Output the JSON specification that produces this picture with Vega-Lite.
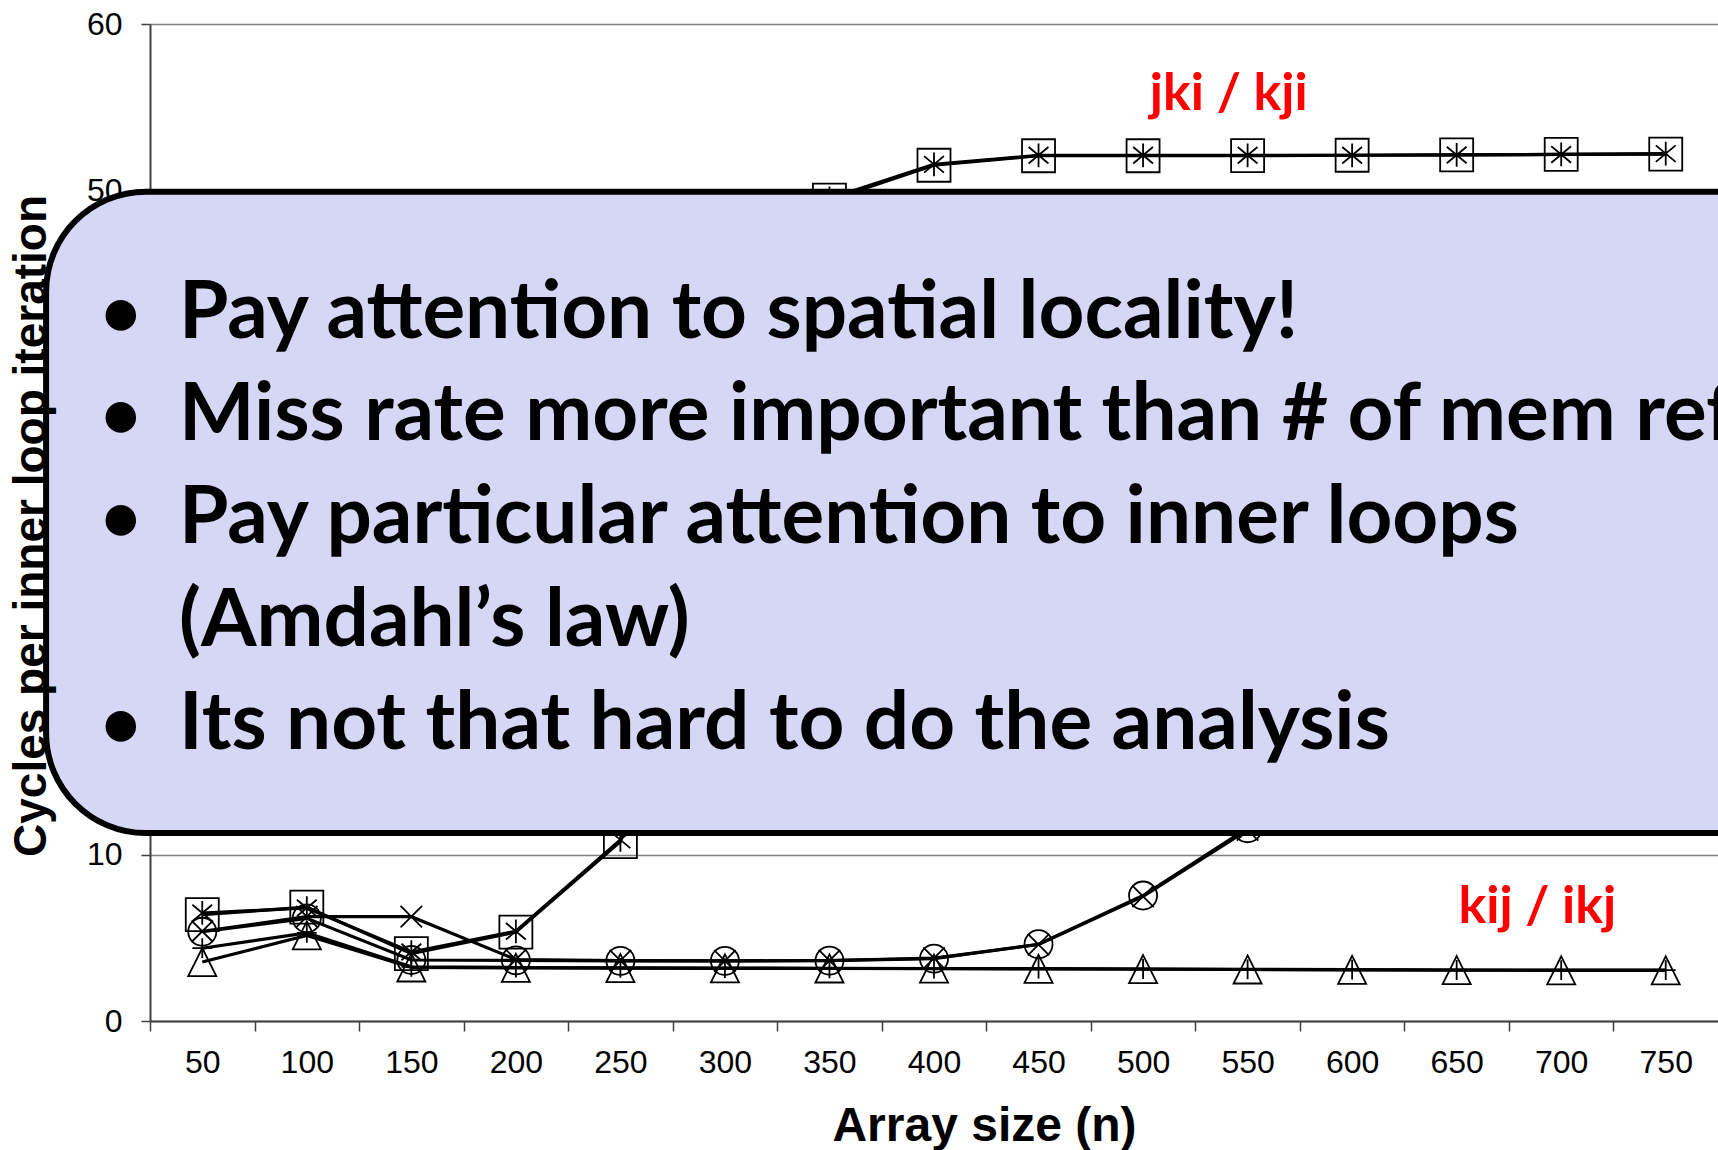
{
  "$schema": "https://vega.github.io/schema/vega-lite/v6.json",
  "width": 1568,
  "height": 997,
  "autosize": {"type": "none"},
  "padding": {"left": 150, "top": 24, "right": 0, "bottom": 129},
  "background": "white",
  "config": {"view": {"stroke": null}, "font": "Liberation Sans"},
  "datasets": {
    "perf": [
      {"order": "jki", "n": 50, "cycles": 6.4}, {"order": "jki", "n": 100, "cycles": 6.85}, {"order": "jki", "n": 150, "cycles": 4.05}, {"order": "jki", "n": 200, "cycles": 5.35}, {"order": "jki", "n": 250, "cycles": 10.8}, {"order": "jki", "n": 300, "cycles": 30.0}, {"order": "jki", "n": 350, "cycles": 49.4}, {"order": "jki", "n": 400, "cycles": 51.5}, {"order": "jki", "n": 450, "cycles": 52.07}, {"order": "jki", "n": 500, "cycles": 52.07}, {"order": "jki", "n": 550, "cycles": 52.08}, {"order": "jki", "n": 600, "cycles": 52.1}, {"order": "jki", "n": 650, "cycles": 52.12}, {"order": "jki", "n": 700, "cycles": 52.15}, {"order": "jki", "n": 750, "cycles": 52.17},
      {"order": "kji", "n": 50, "cycles": 6.5}, {"order": "kji", "n": 100, "cycles": 6.8}, {"order": "kji", "n": 150, "cycles": 4.15}, {"order": "kji", "n": 200, "cycles": 5.4}, {"order": "kji", "n": 250, "cycles": 10.9}, {"order": "kji", "n": 300, "cycles": 30.5}, {"order": "kji", "n": 350, "cycles": 49.5}, {"order": "kji", "n": 400, "cycles": 51.55}, {"order": "kji", "n": 450, "cycles": 52.1}, {"order": "kji", "n": 500, "cycles": 52.1}, {"order": "kji", "n": 550, "cycles": 52.1}, {"order": "kji", "n": 600, "cycles": 52.1}, {"order": "kji", "n": 650, "cycles": 52.12}, {"order": "kji", "n": 700, "cycles": 52.15}, {"order": "kji", "n": 750, "cycles": 52.2},
      {"order": "ijk", "n": 50, "cycles": 5.37}, {"order": "ijk", "n": 100, "cycles": 6.18}, {"order": "ijk", "n": 150, "cycles": 3.67}, {"order": "ijk", "n": 200, "cycles": 3.65}, {"order": "ijk", "n": 250, "cycles": 3.62}, {"order": "ijk", "n": 300, "cycles": 3.62}, {"order": "ijk", "n": 350, "cycles": 3.63}, {"order": "ijk", "n": 400, "cycles": 3.75}, {"order": "ijk", "n": 450, "cycles": 4.62}, {"order": "ijk", "n": 500, "cycles": 7.55}, {"order": "ijk", "n": 550, "cycles": 11.6}, {"order": "ijk", "n": 600, "cycles": 14.8}, {"order": "ijk", "n": 650, "cycles": 17.5}, {"order": "ijk", "n": 700, "cycles": 19.5}, {"order": "ijk", "n": 750, "cycles": 21.0},
      {"order": "jik", "n": 50, "cycles": 5.4}, {"order": "jik", "n": 100, "cycles": 6.28}, {"order": "jik", "n": 150, "cycles": 6.28}, {"order": "jik", "n": 200, "cycles": 3.7}, {"order": "jik", "n": 250, "cycles": 3.63}, {"order": "jik", "n": 300, "cycles": 3.62}, {"order": "jik", "n": 350, "cycles": 3.64}, {"order": "jik", "n": 400, "cycles": 3.78}, {"order": "jik", "n": 450, "cycles": 4.6}, {"order": "jik", "n": 500, "cycles": 7.5}, {"order": "jik", "n": 550, "cycles": 11.5}, {"order": "jik", "n": 600, "cycles": 14.6}, {"order": "jik", "n": 650, "cycles": 17.2}, {"order": "jik", "n": 700, "cycles": 19.3}, {"order": "jik", "n": 750, "cycles": 20.8},
      {"order": "kij", "n": 50, "cycles": 3.55}, {"order": "kij", "n": 100, "cycles": 5.15}, {"order": "kij", "n": 150, "cycles": 3.22}, {"order": "kij", "n": 200, "cycles": 3.2}, {"order": "kij", "n": 250, "cycles": 3.18}, {"order": "kij", "n": 300, "cycles": 3.17}, {"order": "kij", "n": 350, "cycles": 3.16}, {"order": "kij", "n": 400, "cycles": 3.15}, {"order": "kij", "n": 450, "cycles": 3.14}, {"order": "kij", "n": 500, "cycles": 3.12}, {"order": "kij", "n": 550, "cycles": 3.1}, {"order": "kij", "n": 600, "cycles": 3.08}, {"order": "kij", "n": 650, "cycles": 3.06}, {"order": "kij", "n": 700, "cycles": 3.05}, {"order": "kij", "n": 750, "cycles": 3.05},
      {"order": "ikj", "n": 50, "cycles": 4.38}, {"order": "ikj", "n": 100, "cycles": 5.3}, {"order": "ikj", "n": 150, "cycles": 3.26}, {"order": "ikj", "n": 200, "cycles": 3.22}, {"order": "ikj", "n": 250, "cycles": 3.2}, {"order": "ikj", "n": 300, "cycles": 3.18}, {"order": "ikj", "n": 350, "cycles": 3.17}, {"order": "ikj", "n": 400, "cycles": 3.16}, {"order": "ikj", "n": 450, "cycles": 3.15}, {"order": "ikj", "n": 500, "cycles": 3.13}, {"order": "ikj", "n": 550, "cycles": 3.11}, {"order": "ikj", "n": 600, "cycles": 3.09}, {"order": "ikj", "n": 650, "cycles": 3.07}, {"order": "ikj", "n": 700, "cycles": 3.06}, {"order": "ikj", "n": 750, "cycles": 3.06}
    ],
    "box": [
      {"n_left": -24.7, "n_right": 830, "c_bottom": 11.31, "c_top": 49.91}
    ],
    "notes": [
      {"line": "Pay attention to spatial locality!", "n": 38.9, "cycles": 41.13},
      {"line": "Miss rate more important than # of mem refs", "n": 38.9, "cycles": 34.94},
      {"line": "Pay particular attention to inner loops", "n": 38.9, "cycles": 28.74},
      {"line": "(Amdahl’s law)", "n": 38.9, "cycles": 22.54},
      {"line": "Its not that hard to do the analysis", "n": 38.9, "cycles": 16.34}
    ],
    "bullets": [
      {"mark": "•", "n": 11.0, "cycles": 41.25},
      {"mark": "•", "n": 11.0, "cycles": 35.06},
      {"mark": "•", "n": 11.0, "cycles": 28.86},
      {"mark": "•", "n": 11.0, "cycles": 16.46}
    ],
    "tags": [
      {"tag": "jki / kji", "n": 541, "cycles": 54.82},
      {"tag": "kij / ikj", "n": 688.6, "cycles": 5.88}
    ],
    "ytitle": [
      {"label": "Cycles per inner loop iteration", "n": -24.7, "cycles": 29.79}
    ]
  },
  "layer": [
    {
      "data": {"name": "perf"},
      "mark": {"type": "line", "color": "black", "strokeWidth": 3.2},
      "encoding": {
        "x": {
          "field": "n", "type": "quantitative",
          "scale": {"domain": [25, 775], "nice": false, "zero": false},
          "axis": {
            "values": [50, 100, 150, 200, 250, 300, 350, 400, 450, 500, 550, 600, 650, 700, 750],
            "tickOffset": -52.27, "labelOffset": 52.27, "format": "d",
            "title": "Array size (n)", "titleFontSize": 48, "titleFontWeight": "bold", "titleColor": "black",
            "titleX": 834, "titleY": 119, "titleAlign": "center", "titleBaseline": "alphabetic",
            "labelFontSize": 32, "labelColor": "black", "labelPadding": 16, "labelFlush": false, "labelOverlap": false,
            "tickSize": 10, "tickColor": "#404040", "tickWidth": 1.5,
            "domainColor": "#404040", "domainWidth": 2, "grid": false
          }
        },
        "y": {
          "field": "cycles", "type": "quantitative",
          "scale": {"domain": [0, 60], "nice": false, "zero": false},
          "axis": {
            "orient": "left", "values": [0, 10, 20, 30, 40, 50, 60], "title": null,
            "grid": true, "gridColor": "#808080", "gridWidth": 1.5,
            "labelFontSize": 32, "labelColor": "black", "labelPadding": 19,
            "tickSize": 9, "tickColor": "#404040", "tickWidth": 1.5,
            "domainColor": "#404040", "domainWidth": 2
          }
        },
        "detail": {"field": "order"}
      }
    },
    {
      "data": {"name": "perf"},
      "mark": {"type": "point", "filled": false, "color": "black", "strokeWidth": 1.8, "size": 1089, "opacity": 1},
      "encoding": {
        "x": {"field": "n", "type": "quantitative"},
        "y": {"field": "cycles", "type": "quantitative"},
        "shape": {
          "field": "order", "type": "nominal", "legend": null,
          "scale": {
            "domain": ["jki", "kji", "ijk", "jik", "kij", "ikj"],
            "range": [
              "M-1,-1H1V1H-1Z",
              "M0,-0.72V0.72M-0.6,-0.5L0.6,0.5M-0.6,0.5L0.6,-0.5",
              "M-0.85,0A0.85,0.85 0 1,0 0.85,0A0.85,0.85 0 1,0 -0.85,0Z",
              "M-0.65,-0.65L0.65,0.65M-0.65,0.65L0.65,-0.65",
              "M0,-0.85L0.85,0.85L-0.85,0.85Z",
              "M0,-0.6V0.6M-0.6,0H0.6"
            ]
          }
        }
      }
    },
    {
      "data": {"name": "box"},
      "mark": {"type": "rect", "fill": "#d6d6f5", "stroke": "black", "strokeWidth": 6, "cornerRadius": 100},
      "encoding": {
        "x": {"field": "n_left", "type": "quantitative"},
        "x2": {"field": "n_right"},
        "y": {"field": "c_bottom", "type": "quantitative"},
        "y2": {"field": "c_top"}
      }
    },
    {
      "data": {"name": "bullets"},
      "mark": {"type": "text", "font": "Lato", "fontWeight": "bold", "fontSize": 70, "align": "center", "baseline": "alphabetic", "color": "black"},
      "encoding": {
        "x": {"field": "n", "type": "quantitative"},
        "y": {"field": "cycles", "type": "quantitative"},
        "text": {"field": "mark"}
      }
    },
    {
      "data": {"name": "notes"},
      "mark": {"type": "text", "font": "Lato", "fontWeight": "bold", "fontSize": 80, "align": "left", "baseline": "alphabetic", "color": "black"},
      "encoding": {
        "x": {"field": "n", "type": "quantitative"},
        "y": {"field": "cycles", "type": "quantitative"},
        "text": {"field": "line"}
      }
    },
    {
      "data": {"name": "tags"},
      "mark": {"type": "text", "font": "Lato", "fontWeight": "bold", "fontSize": 52, "align": "center", "baseline": "alphabetic", "color": "#ff0000"},
      "encoding": {
        "x": {"field": "n", "type": "quantitative"},
        "y": {"field": "cycles", "type": "quantitative"},
        "text": {"field": "tag"}
      }
    },
    {
      "data": {"name": "ytitle"},
      "mark": {"type": "text", "font": "Liberation Sans", "fontWeight": "bold", "fontSize": 46, "angle": 270, "align": "center", "baseline": "alphabetic", "color": "black"},
      "encoding": {
        "x": {"field": "n", "type": "quantitative"},
        "y": {"field": "cycles", "type": "quantitative"},
        "text": {"field": "label"}
      }
    }
  ]
}
